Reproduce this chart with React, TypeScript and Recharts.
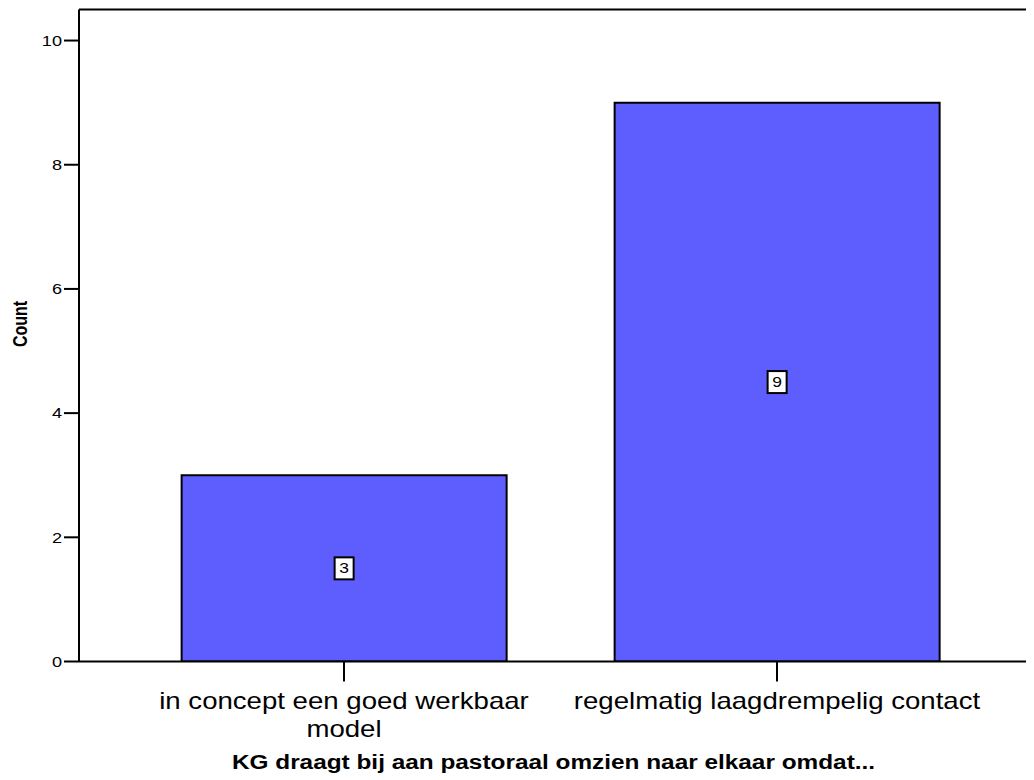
import React from "react";
import { BarChart, Bar, XAxis, YAxis, ReferenceLine, LabelList } from "recharts";

const categories = ["in concept een goed werkbaar model", "regelmatig laagdrempelig contact"];
const counts = [3, 9];
const yTicks = [0, 2, 4, 6, 8, 10];
const yDomainMax = 10.5;
const xTitle = "KG draagt bij aan pastoraal omzien naar elkaar omdat...";
const yTitle = "Count";

const data = categories.map((c, i) => ({ category: c, count: counts[i] }));

const FONT = "Arial, 'Liberation Sans', Helvetica, sans-serif";
const SX = 1.25;
const SX_CAT = 1.2;

function wrapText(text: string, maxW: number, font: string, sx: number): string[] {
  let ctx: CanvasRenderingContext2D | null = null;
  try {
    ctx = document.createElement("canvas").getContext("2d");
  } catch (e) {
    ctx = null;
  }
  const measure = (s: string) => {
    if (ctx) {
      ctx.font = font;
      return ctx.measureText(s).width;
    }
    return s.length * 11;
  };
  const words = text.split(" ");
  const lines: string[] = [];
  let cur = "";
  for (const w of words) {
    const test = cur ? cur + " " + w : w;
    if (measure(test) * sx > maxW && cur) {
      lines.push(cur);
      cur = w;
    } else {
      cur = test;
    }
  }
  if (cur) lines.push(cur);
  return lines;
}

const XTick = (props: any) => {
  const { x, y, payload } = props;
  const lines = wrapText(String(payload.value), 428, `23px ${FONT}`, SX_CAT);
  return (
    <g transform={`translate(${x},${y + 25}) scale(${SX_CAT},1)`}>
      <text textAnchor="middle" fontFamily={FONT} fontSize={23} fill="#000">
        {lines.map((l, i) => (
          <tspan key={i} x={0} dy={i === 0 ? 0 : 29}>
            {l}
          </tspan>
        ))}
      </text>
    </g>
  );
};

const YTick = (props: any) => {
  const { x, y, payload } = props;
  return (
    <g transform={`translate(${x},${y}) scale(${SX},1)`}>
      <text textAnchor="end" dominantBaseline="central" fontFamily={FONT} fontSize={14.5} fill="#000">
        {payload.value}
      </text>
    </g>
  );
};

const BoxLabel = (props: any) => {
  const { x, y, width, height, value } = props;
  const cx = x + width / 2;
  const cy = y + height / 2;
  return (
    <g>
      <rect x={cx - 9.5} y={cy - 11} width={19} height={22} fill="#fff" stroke="#000" strokeWidth={2} />
      <g transform={`translate(${cx},${cy}) scale(${SX},1)`}>
        <text textAnchor="middle" dominantBaseline="central" fontFamily={FONT} fontSize={14} fill="#000">
          {value}
        </text>
      </g>
    </g>
  );
};

const XTitle = (props: any) => {
  const vb = props.viewBox || {};
  const cx = vb.x + vb.width / 2 - 7;
  return (
    <g transform={`translate(${cx},761) scale(${SX},1)`}>
      <text textAnchor="middle" fontFamily={FONT} fontSize={19.5} fontWeight="bold" fill="#000">
        {xTitle}
      </text>
    </g>
  );
};

const YTitle = () => {
  return (
    <g transform={`translate(12.5,316) scale(${SX},1) rotate(-90)`}>
      <text textAnchor="middle" dominantBaseline="central" fontFamily={FONT} fontSize={16} fontWeight="bold" fill="#000">
        {yTitle}
      </text>
    </g>
  );
};

export default function App() {
  return (
    <div style={{ width: 1026, height: 772, overflow: "hidden", background: "#fff" }}>
      <BarChart
        width={1050}
        height={772}
        data={data}
        margin={{ top: 1.5, right: 16, left: 0, bottom: 0 }}
        barCategoryGap="12.5%"
      >
        <XAxis
          dataKey="category"
          height={118.5}
          padding={{ left: 48.5, right: 48.5 }}
          axisLine={{ stroke: "#000", strokeWidth: 2 }}
          tickLine={{ stroke: "#000", strokeWidth: 2 }}
          tickSize={20}
          tick={<XTick />}
          interval={0}
          label={<XTitle />}
        />
        <YAxis
          width={71}
          domain={[0, yDomainMax]}
          ticks={yTicks}
          allowDataOverflow
          axisLine={{ stroke: "#000", strokeWidth: 2 }}
          tickLine={{ stroke: "#000", strokeWidth: 2 }}
          tickSize={15}
          tick={<YTick />}
          label={<YTitle />}
        />
        <ReferenceLine y={yDomainMax} stroke="#000" strokeWidth={2} ifOverflow="extendDomain" />
        <Bar dataKey="count" fill="#5e5eff" stroke="#000" strokeWidth={2} isAnimationActive={false}>
          <LabelList dataKey="count" content={<BoxLabel />} />
        </Bar>
      </BarChart>
    </div>
  );
}
